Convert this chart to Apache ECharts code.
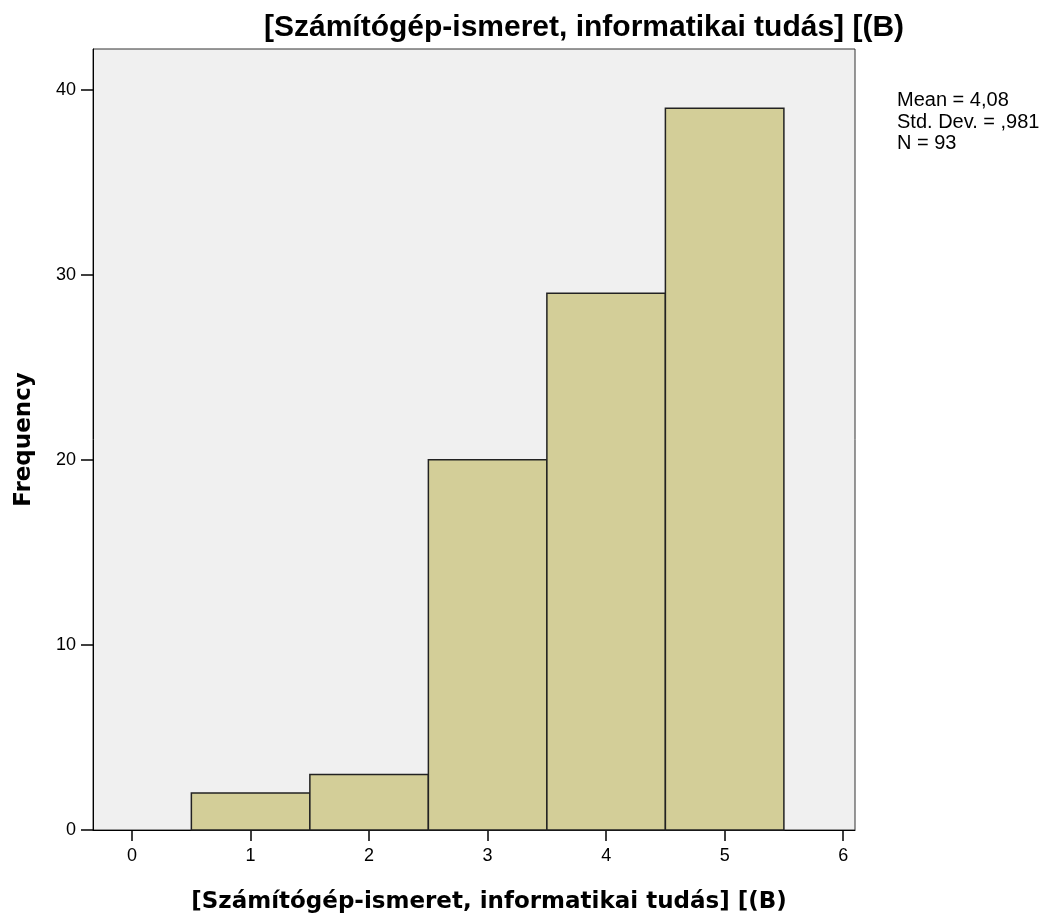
<!DOCTYPE html>
<html>
<head>
<meta charset="utf-8">
<script src="https://cdn.jsdelivr.net/npm/echarts@6/dist/echarts.min.js"></script>
<style>html,body{margin:0;padding:0;background:#fff}#c{width:1047px;height:923px}</style>
</head>
<body>
<div id="c"></div>
<script>
const titleText = '[Számítógép-ismeret, informatikai tudás] [(B)';
const xAxisName = '[Számítógép-ismeret, informatikai tudás] [(B)';
const yAxisName = 'Frequency';
const binCenters = [1, 2, 3, 4, 5];
const frequencies = [2, 3, 20, 29, 39];
const xTicks = [0, 1, 2, 3, 4, 5, 6];
const yTicks = [0, 10, 20, 30, 40];
const statsLines = ['Mean = 4,08', 'Std. Dev. = ,981', 'N = 93'];

const chart = echarts.init(document.getElementById('c'));
const data = binCenters.map((c, i) => [c, frequencies[i]]);
chart.setOption({
  animation: false,
  backgroundColor: '#ffffff',
  grid: {left: 93, top: 49, right: 192, bottom: 93, show: true, backgroundColor: '#f0f0f0', borderColor: '#333', borderWidth: 1},
  xAxis: {
    type: 'value', min: -0.33, max: 6.1,
    name: xAxisName, nameLocation: 'middle', nameGap: 61,
    nameTextStyle: {fontFamily: 'DejaVu Sans', fontWeight: 'bold', fontSize: 23, color: '#000', padding: [0, 0, 0, 30]},
    axisLine: {show: true, onZero: false, lineStyle: {color: '#000', width: 1}},
    axisTick: {show: true, length: 11, customValues: xTicks, lineStyle: {color: '#000', width: 1.5}},
    axisLabel: {customValues: xTicks, margin: 17, fontFamily: 'Liberation Sans', fontSize: 18, color: '#000'},
    splitLine: {show: false}
  },
  yAxis: {
    type: 'value', min: 0, max: 42.2,
    name: yAxisName, nameLocation: 'middle', nameGap: 57,
    nameTextStyle: {fontFamily: 'DejaVu Sans', fontWeight: 'bold', fontSize: 23, color: '#000'},
    axisLine: {show: true, onZero: false, lineStyle: {color: '#000', width: 1}},
    axisTick: {show: true, length: 12, customValues: yTicks, lineStyle: {color: '#000', width: 1.5}},
    axisLabel: {customValues: yTicks, margin: 17, fontFamily: 'Liberation Sans', fontSize: 18, color: '#000'},
    splitLine: {show: false}
  },
  graphic: [
    {type: 'text', x: 584, y: 28, style: {text: titleText, fill: '#000', font: 'bold 30px "Liberation Sans"', textAlign: 'center', textVerticalAlign: 'middle'}},
    {type: 'text', x: 897, y: 90, style: {text: statsLines.join('\n'), fill: '#000', font: '20px "Liberation Sans"', lineHeight: 21.5}}
  ],
  series: [{
    type: 'custom',
    data: data,
    encode: {x: 0, y: 1},
    renderItem: function (params, api) {
      const c = api.value(0), v = api.value(1);
      const p0 = api.coord([c - 0.5, v]);
      const p1 = api.coord([c + 0.5, 0]);
      return {type: 'rect', shape: {x: p0[0], y: p0[1], width: p1[0] - p0[0], height: p1[1] - p0[1]},
        style: {fill: '#d3ce98', stroke: '#222', lineWidth: 1.5}};
    }
  }]
});
</script>
</body>
</html>
